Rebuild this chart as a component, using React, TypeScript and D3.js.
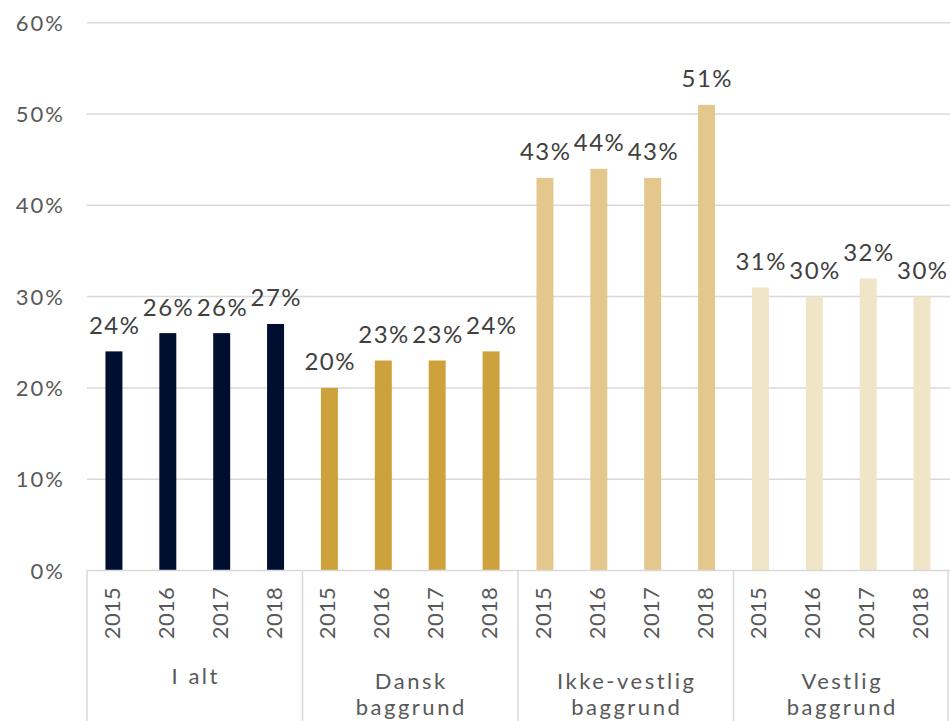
import React from "react";
import * as d3 from "d3";

const groups = ["I alt", "Dansk baggrund", "Ikke-vestlig baggrund", "Vestlig baggrund"];
const groupLines = [["I alt"], ["Dansk", "baggrund"], ["Ikke-vestlig", "baggrund"], ["Vestlig", "baggrund"]];
const years = ["2015", "2016", "2017", "2018"];
const iAlt = [24, 26, 26, 27];
const dansk = [20, 23, 23, 24];
const ikkeVestlig = [43, 44, 43, 51];
const vestlig = [31, 30, 32, 30];
const seriesValues = [iAlt, dansk, ikkeVestlig, vestlig];
const colors = ["#000e2f", "#cda23d", "#e3c78c", "#f1e5c7"];
const yTicks = [0, 10, 20, 30, 40, 50, 60];

const W = 950;
const H = 721;
const left = 87;
const right = 949;
const top = 22.7;
const bottom = 570.5;
const font = "Lato, 'Noto Sans', sans-serif";

export default function App() {
  const y = d3.scaleLinear().domain([0, 60]).range([bottom, top]);
  const gx = d3.scaleBand<string>().domain(groups).range([left, right]).padding(0);
  const ix = d3
    .scaleBand<string>()
    .domain(years)
    .range([0, gx.bandwidth()])
    .paddingInner(0.685)
    .paddingOuter(0.3425);

  return (
    <svg
      width={W}
      height={H}
      style={{ position: "absolute", left: 0, top: 0, background: "#fff" }}
      fontFamily={font}
    >
      {yTicks.map((t) => (
        <g key={t}>
          {t > 0 && (
            <line x1={left} x2={W} y1={y(t)} y2={y(t)} stroke="#d9d9d9" strokeWidth={1.5} />
          )}
          <text
            x={65}
            y={y(t) + 8}
            textAnchor="end"
            fontSize={22}
            letterSpacing={2}
            fill="#595959"
          >
            {t}%
          </text>
        </g>
      ))}
      {groups.map((g, gi) => {
        const x0 = gx(g)!;
        return (
          <g key={g}>
            {years.map((yr, i) => {
              const v = seriesValues[gi][i];
              const bx = x0 + ix(yr)!;
              const cx = bx + ix.bandwidth() / 2;
              return (
                <g key={yr}>
                  <rect x={bx} y={y(v)} width={ix.bandwidth()} height={y(0) - y(v)} fill={colors[gi]} />
                  <text
                    x={cx + 0.75}
                    y={y(v) - 17.5}
                    textAnchor="middle"
                    fontSize={24}
                    letterSpacing={1.5}
                    fill="#404040"
                  >
                    {v}%
                  </text>
                  <text
                    transform={`translate(${cx + 6},${613}) rotate(-90)`}
                    textAnchor="middle"
                    fontSize={22}
                    letterSpacing={0.3}
                    fill="#595959"
                  >
                    {yr}
                  </text>
                </g>
              );
            })}
            <line x1={x0} x2={x0} y1={bottom} y2={H} stroke="#d9d9d9" strokeWidth={1.5} />
            {groupLines[gi].map((ln, li) => (
              <text
                key={li}
                x={x0 + gx.bandwidth() / 2 + 1}
                y={groupLines[gi].length === 1 ? 684 : 689 + li * 26}
                textAnchor="middle"
                fontSize={22}
                letterSpacing={2.5}
                fill="#595959"
              >
                {ln}
              </text>
            ))}
          </g>
        );
      })}
      <line x1={right - 1} x2={right - 1} y1={bottom} y2={H} stroke="#d9d9d9" strokeWidth={1.5} />
      <line x1={left} x2={W} y1={y(0)} y2={y(0)} stroke="#d9d9d9" strokeWidth={1.5} />
    </svg>
  );
}
